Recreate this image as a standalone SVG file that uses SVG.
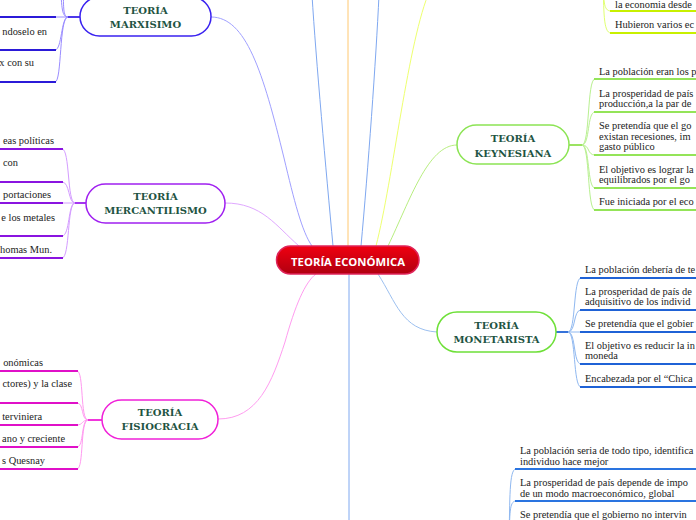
<svg xmlns="http://www.w3.org/2000/svg" width="696" height="520" viewBox="0 0 696 520">
<defs>
<linearGradient id="redg" x1="0" y1="0" x2="0" y2="1">
<stop offset="0" stop-color="#f00010"/>
<stop offset="1" stop-color="#b00010"/>
</linearGradient>
</defs>
<style>
.bg{fill:#ffffff}
.node{fill:#ffffff;stroke-width:1.5}
.lbl{font-family:"DejaVu Serif","Liberation Serif",serif;font-weight:bold;font-size:10px;fill:#1f5443;text-anchor:middle}
.leaf{font-family:"Liberation Serif","DejaVu Serif",serif;font-size:10.4px;fill:#222222}
.end{text-anchor:end}
.con{fill:none;stroke-width:1}
.ul{fill:none;stroke-width:1.8}
.ctr{font-family:"Open Sans","Liberation Sans",sans-serif;font-weight:bold;font-size:11.3px;fill:#ffffff;text-anchor:middle}
</style>
<rect class="bg" x="0" y="0" width="696" height="520"/>
<g id="connectors">
<path class="con" stroke="#7fa8f0" d="M333 246 C326 170 316 60 312 -5"/>
<path class="con" stroke="#ffc870" d="M348 246 L348 -5"/>
<path class="con" stroke="#7fa8f0" d="M361 246 C368 170 376 60 379 -5"/>
<path class="con" stroke="#eeff70" d="M376 246 C393 180 408 40 430 -10"/>
<path class="con" stroke="#b8ee80" d="M388 246 C410 200 428 145 457 145"/>
<path class="con" stroke="#a0a0ff" d="M211 17 C246 17 263 72 284 158 C294 200 302 232 312 246"/>
<path class="con" stroke="#e0a8ff" d="M225 203 C262 203 276 226 299 246"/>
<path class="con" stroke="#ff9cf0" d="M218 419 C258 419 272 382 285 342 C295 306 305 282 316 274"/>
<path class="con" stroke="#7fa8f0" d="M349 274 L349 525"/>
<path class="con" stroke="#9cc0f0" d="M378 274 C396 302 402 330 437 332"/>
<path class="ul" stroke="#3a22e8" d="M80 17 L68 17"/>
<path class="con" stroke="#9a8cff" d="M68 17 C61 17 62 5 60 -20"/>
<path class="con" stroke="#9a8cff" d="M68 17 C62 17 64 2 63 -20"/>
<path class="con" stroke="#9a8cff" d="M68 17 L55 17"/>
<path class="con" stroke="#9a8cff" d="M68 17 C61 17 62 50 55 50"/>
<path class="con" stroke="#9a8cff" d="M68 17 C59 17 62 82 55 82"/>
<path class="ul" stroke="#2b1ad8" d="M-5 17 L56 17"/>
<path class="ul" stroke="#2b1ad8" d="M-5 50 L56 50"/>
<path class="ul" stroke="#2b1ad8" d="M-5 82 L56 82"/>
<path class="ul" stroke="#9a20ee" d="M86 203 L75 203"/>
<path class="con" stroke="#d49cff" d="M75 203 C67 203 70 149 62 149"/>
<path class="con" stroke="#d49cff" d="M75 203 C68 203 70 182 62 182"/>
<path class="con" stroke="#d49cff" d="M75 203 L62 203"/>
<path class="con" stroke="#d49cff" d="M75 203 C68 203 70 236 62 236"/>
<path class="con" stroke="#d49cff" d="M75 203 C67 203 70 258 62 258"/>
<path class="ul" stroke="#8a14e0" d="M-5 149 L63 149"/>
<path class="ul" stroke="#8a14e0" d="M-5 182 L63 182"/>
<path class="ul" stroke="#8a14e0" d="M-5 203 L63 203"/>
<path class="ul" stroke="#8a14e0" d="M-5 236 L63 236"/>
<path class="ul" stroke="#8a14e0" d="M-5 258 L63 258"/>
<path class="ul" stroke="#f020d8" d="M102 420 L88 420"/>
<path class="con" stroke="#ff99f0" d="M88 420 C80 420 84 371 77 371"/>
<path class="con" stroke="#ff99f0" d="M88 420 C81 420 84 403 77 403"/>
<path class="con" stroke="#ff99f0" d="M88 420 C82 420 83 425 77 425"/>
<path class="con" stroke="#ff99f0" d="M88 420 C81 420 84 447 77 447"/>
<path class="con" stroke="#ff99f0" d="M88 420 C80 420 84 469 77 469"/>
<path class="ul" stroke="#e010c8" d="M-5 371 L78 371"/>
<path class="ul" stroke="#e010c8" d="M-5 403 L78 403"/>
<path class="ul" stroke="#e010c8" d="M-5 425 L78 425"/>
<path class="ul" stroke="#e010c8" d="M-5 447 L78 447"/>
<path class="ul" stroke="#e010c8" d="M-5 469 L78 469"/>
<path class="ul" stroke="#90e050" d="M569 145 L582 145"/>
<path class="con" stroke="#b8f090" d="M582 145 C590 145 587 79 595 79"/>
<path class="con" stroke="#b8f090" d="M582 145 C590 145 587 112 595 112"/>
<path class="con" stroke="#b8f090" d="M582 145 C590 145 587 155 595 155"/>
<path class="con" stroke="#b8f090" d="M582 145 C590 145 587 188 595 188"/>
<path class="con" stroke="#b8f090" d="M582 145 C590 145 587 210 595 210"/>
<path class="ul" stroke="#94e458" d="M594 79 L700 79"/>
<path class="ul" stroke="#94e458" d="M594 112 L700 112"/>
<path class="ul" stroke="#94e458" d="M594 155 L700 155"/>
<path class="ul" stroke="#94e458" d="M594 188 L700 188"/>
<path class="ul" stroke="#94e458" d="M594 210 L700 210"/>
<path class="ul" stroke="#1f62d6" d="M556 332 L568 332"/>
<path class="con" stroke="#8fb8f0" d="M568 332 C576 332 573 278 581 278"/>
<path class="con" stroke="#8fb8f0" d="M568 332 C576 332 573 310 581 310"/>
<path class="con" stroke="#8fb8f0" d="M568 332 L581 332"/>
<path class="con" stroke="#8fb8f0" d="M568 332 C576 332 573 364 581 364"/>
<path class="con" stroke="#8fb8f0" d="M568 332 C576 332 573 387 581 387"/>
<path class="ul" stroke="#1f62d6" d="M580 278 L700 278"/>
<path class="ul" stroke="#1f62d6" d="M580 310 L700 310"/>
<path class="ul" stroke="#1f62d6" d="M580 332 L700 332"/>
<path class="ul" stroke="#1f62d6" d="M580 364 L700 364"/>
<path class="ul" stroke="#1f62d6" d="M580 387 L700 387"/>
<path class="con" stroke="#8fb8f0" d="M509 540 C510 500 509 469 516 469"/>
<path class="con" stroke="#8fb8f0" d="M509 540 C510 515 509 501 516 501"/>
<path class="ul" stroke="#2a74e0" d="M515 469 L700 469"/>
<path class="ul" stroke="#2a74e0" d="M515 501 L700 501"/>
<path class="con" stroke="#e0ff70" d="M603 -20 C604 0 603 11 611 11"/>
<path class="con" stroke="#e0ff70" d="M603 -20 C604 10 603 33 611 33"/>
<path class="ul" stroke="#c8f000" d="M610 11 L700 11"/>
<path class="ul" stroke="#c8f000" d="M610 33 L700 33"/>
</g>
<g id="center">
<rect x="276.5" y="246" width="142.5" height="28" rx="14" fill="url(#redg)" stroke="#e0245a" stroke-width="1.5"/>
<text class="ctr" x="348" y="265.5">TEORÍA ECONÓMICA</text>
</g>
<g id="marxisimo">
<rect class="node" x="80" y="-3" width="131" height="39" rx="19.5" stroke="#3a22f0"/>
<text class="lbl" x="145.5" y="14">TEORÍA</text>
<text class="lbl" x="145.5" y="28">MARXISIMO</text>
</g>
<g id="marxisimo-leaves">
<text class="leaf end" x="47" y="35">ndoselo en</text>
<text class="leaf end" x="34" y="66">x con su</text>
</g>
<g id="mercantilismo">
<rect class="node" x="86" y="184" width="139" height="39" rx="19.5" stroke="#a020f0"/>
<text class="lbl" x="155.5" y="200">TEORÍA</text>
<text class="lbl" x="155.5" y="214">MERCANTILISMO</text>
</g>
<g id="mercantilismo-leaves">
<text class="leaf end" x="54" y="144">eas políticas</text>
<text class="leaf end" x="18" y="166">con</text>
<text class="leaf end" x="51" y="198">portaciones</text>
<text class="leaf end" x="55" y="220.5">e los metales</text>
<text class="leaf end" x="52" y="253">homas Mun.</text>
</g>
<g id="fisiocracia">
<rect class="node" x="102" y="400" width="116" height="39" rx="19.5" stroke="#f020d8"/>
<text class="lbl" x="160" y="416">TEORÍA</text>
<text class="lbl" x="160" y="430">FISIOCRACIA</text>
</g>
<g id="fisiocracia-leaves">
<text class="leaf end" x="43" y="365.5">onómicas</text>
<text class="leaf end" x="72" y="387">ctores) y la clase</text>
<text class="leaf end" x="42" y="420">terviniera</text>
<text class="leaf end" x="65" y="442">ano y creciente</text>
<text class="leaf end" x="45" y="464">s Quesnay</text>
</g>
<g id="keynesiana">
<rect class="node" x="457" y="125" width="112" height="39" rx="19.5" stroke="#8ce454"/>
<text class="lbl" x="513" y="142">TEORÍA</text>
<text class="lbl" x="513" y="156.5">KEYNESIANA</text>
</g>
<g id="keynesiana-leaves">
<text class="leaf" x="599" y="74.5">La población eran los p</text>
<text class="leaf" x="599" y="96.5">La prosperidad de país</text>
<text class="leaf" x="599" y="107">producción,a la par de</text>
<text class="leaf" x="599" y="129">Se pretendía que el go</text>
<text class="leaf" x="599" y="139.5">existan recesiones, im</text>
<text class="leaf" x="599" y="150">gasto público</text>
<text class="leaf" x="599" y="172.5">El objetivo es lograr la</text>
<text class="leaf" x="599" y="183">equilibrados por el go</text>
<text class="leaf" x="599" y="205">Fue iniciada por el eco</text>
</g>
<g id="monetarista">
<rect class="node" x="437" y="312" width="119" height="40" rx="20" stroke="#6ee038"/>
<text class="lbl" x="496.5" y="329">TEORÍA</text>
<text class="lbl" x="496.5" y="343">MONETARISTA</text>
</g>
<g id="monetarista-leaves">
<text class="leaf" x="585" y="273">La población debería de te</text>
<text class="leaf" x="585" y="294.5">La prosperidad de país de</text>
<text class="leaf" x="585" y="305">adquisitivo de los individ</text>
<text class="leaf" x="585" y="327">Se pretendía que el gobier</text>
<text class="leaf" x="585" y="348.5">El objetivo es reducir la in</text>
<text class="leaf" x="585" y="359">moneda</text>
<text class="leaf" x="585" y="381.5">Encabezada por el “Chica</text>
</g>
<g id="bottom-leaves">
<text class="leaf" x="520" y="454">La población seria de todo tipo, identifica</text>
<text class="leaf" x="520" y="464.5">individuo hace mejor</text>
<text class="leaf" x="520" y="486">La prosperidad de país depende de impo</text>
<text class="leaf" x="520" y="496.5">de un modo macroeconómico, global</text>
<text class="leaf" x="520" y="518">Se pretendía que el gobierno no intervin</text>
</g>
<g id="top-leaves">
<text class="leaf" x="615" y="8">la economia desde</text>
<text class="leaf" x="615" y="28">Hubieron varios ec</text>
</g>
</svg>
